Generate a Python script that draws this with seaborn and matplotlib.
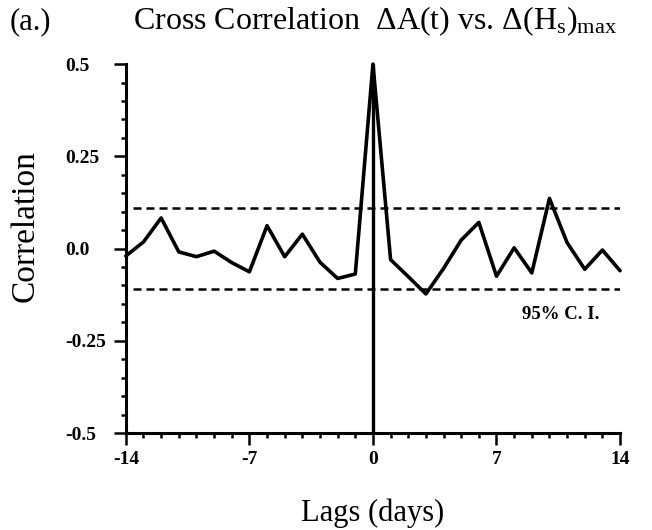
import matplotlib
matplotlib.use("Agg")
import matplotlib.pyplot as plt
import seaborn as sns
import pandas as pd
from matplotlib.ticker import MultipleLocator, FixedLocator

# ---- data ----
lags = list(range(-14, 15))
corr = [-0.020, 0.018, 0.083, -0.009, -0.022, -0.007, -0.038, -0.063, 0.062,
        -0.022, 0.039, -0.037, -0.081, -0.069, 0.500, -0.030, -0.076, -0.123,
        -0.054, 0.023, 0.071, -0.075, 0.002, -0.066, 0.136, 0.016, -0.056,
        -0.004, -0.060]
ci_level = 0.11
x_ticks = [-14, -7, 0, 7, 14]
y_ticks = [-0.5, -0.25, 0.0, 0.25, 0.5]
y_tick_labels = ["-0.5", "-0.25", "0.0", "0.25", "0.5"]

sns.set_theme(style="ticks")
plt.rcParams['font.family'] = ['Liberation Serif', 'DejaVu Serif']
plt.rcParams['mathtext.fontset'] = 'custom'
plt.rcParams['mathtext.rm'] = 'Liberation Serif'
plt.rcParams['mathtext.it'] = 'Liberation Serif:italic'
plt.rcParams['mathtext.bf'] = 'Liberation Serif:bold'

df = pd.DataFrame({"lag": lags, "corr": corr})

fig = plt.figure(figsize=(6.52, 5.30), dpi=100)
ax = fig.add_axes([0.193, 0.183, 0.758, 0.696])

sns.lineplot(data=df, x="lag", y="corr", ax=ax, color="black", lw=2.6,
             clip_on=False, zorder=3)
ax.vlines(0, -0.5, 0.5, color="black", lw=2.4, zorder=3)
for c in (ci_level, -ci_level):
    ax.hlines(c, -13.6, 14, color="black", lw=1.8,
              linestyles=[(0, (3.2, 2.0))], zorder=2)

ax.set_xlim(-14, 14)
ax.set_ylim(-0.5, 0.5)
sns.despine(ax=ax)
for s in ("left", "bottom"):
    ax.spines[s].set_linewidth(2.2)
    ax.spines[s].set_color("black")

ax.xaxis.set_major_locator(FixedLocator(x_ticks))
ax.xaxis.set_minor_locator(MultipleLocator(1))
ax.yaxis.set_major_locator(FixedLocator(y_ticks))
ax.yaxis.set_minor_locator(MultipleLocator(0.05))
ax.set_xticklabels([str(v) for v in x_ticks], fontweight="bold", fontsize=14)
ax.set_yticklabels(y_tick_labels, fontweight="bold", fontsize=14)

ax.tick_params(which="major", direction="out", length=8.6, width=1.8,
               color="black", labelcolor="black")
ax.tick_params(which="minor", direction="out", length=3.5, width=1.8,
               color="black")
ax.tick_params(axis="x", which="major", pad=4)
ax.tick_params(axis="y", which="major", pad=35.3)
for lab in ax.get_yticklabels():
    lab.set_horizontalalignment("left")

ax.set_xlabel("Lags (days)", fontsize=22, color="black", va="center")
ax.xaxis.set_label_coords(0.5, -0.217)
ax.set_ylabel("Correlation", fontsize=24, color="black", va="center")
ax.yaxis.set_label_coords(-0.204, 0.56)

ax.text(10.66, -0.178, "95% C. I.", fontsize=13.5, fontweight="bold",
        ha="center", va="center", color="black")

fig.text(0.015, 0.945, "(a.)", fontsize=22, color="black", va="baseline")
fig.text(0.204, 0.945,
         r"Cross Correlation  $\Delta$A(t) vs. $\Delta$(H$_{\rm s}$)$_{\rm max}$",
         fontsize=23, color="black", va="baseline")

fig.savefig("out.png", dpi=100)
